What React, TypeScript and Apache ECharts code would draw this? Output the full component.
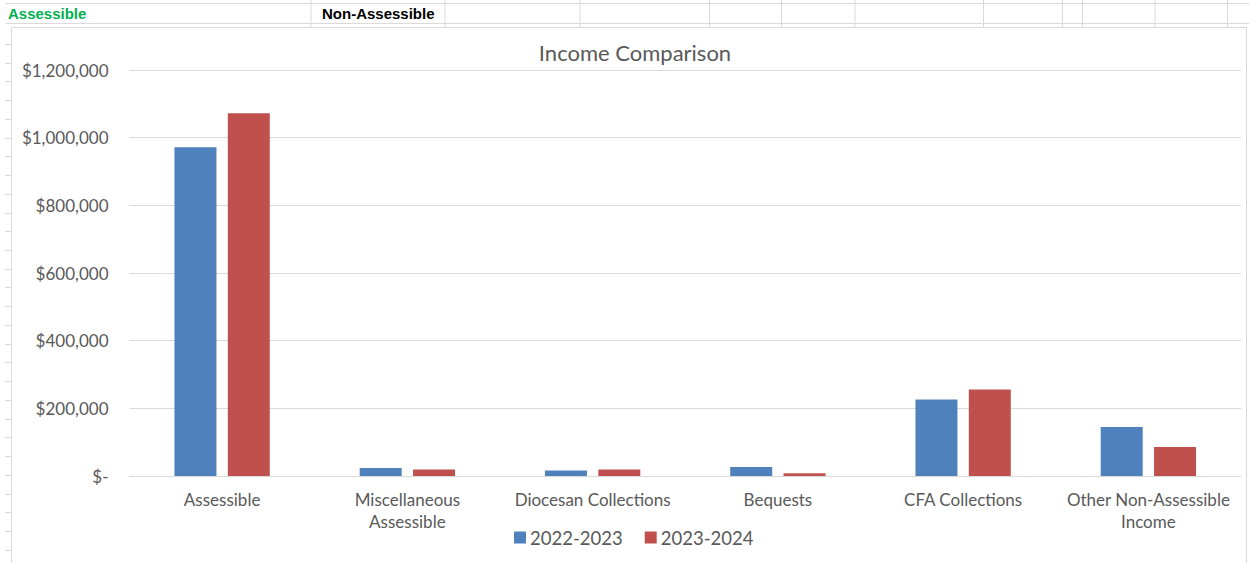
import React, { useEffect, useRef } from "react";
import * as echarts from "echarts";

const categories = [
  "Assessible",
  "Miscellaneous\nAssessible",
  "Diocesan Collections",
  "Bequests",
  "CFA Collections",
  "Other Non-Assessible\nIncome",
];
const seriesNames = ["2022-2023", "2023-2024"];
const values2022 = [972000, 23500, 16500, 26500, 226000, 145000];
const values2023 = [1072000, 19500, 19500, 8000, 256000, 86000];
const headerLabels = ["Assessible", "Non-Assessible"];
const yMax = 1200000;
const yStep = 200000;

const W = 1249;
const H = 563;
const sheetCols = [311, 445, 580, 709.5, 781.5, 855, 983.5, 1062.5, 1082.5, 1155, 1227.5];

function buildGraphics() {
  const g: any[] = [];
  const line = "#dadada";
  [3.5, 23.5].forEach((y) =>
    g.push({ type: "line", shape: { x1: 6, y1: y, x2: W, y2: y }, style: { stroke: line, lineWidth: 1 }, silent: true })
  );
  sheetCols.forEach((x) =>
    g.push({ type: "line", shape: { x1: x, y1: 0, x2: x, y2: 27 }, style: { stroke: line, lineWidth: 1 }, silent: true })
  );
  for (let k = 0; k < 28; k++) {
    const y = Math.round(44 + 18.73 * k) + 0.5;
    g.push({ type: "line", shape: { x1: 5, y1: y, x2: 11, y2: y }, style: { stroke: line, lineWidth: 1 }, silent: true });
  }
  g.push({
    type: "rect",
    shape: { x: 11.5, y: 27.5, width: 1235, height: 560 },
    style: { fill: "none", stroke: "#d9d9d9", lineWidth: 1 },
    silent: true,
  });
  g.push({
    type: "text",
    x: 8,
    y: 13,
    style: {
      text: headerLabels[0],
      fill: "#00b050",
      font: "bold 15px 'Liberation Sans Narrow', 'Liberation Sans', Arial",
      verticalAlign: "middle",
    },
    silent: true,
  });
  g.push({
    type: "text",
    x: 322,
    y: 13,
    style: {
      text: headerLabels[1],
      fill: "#000000",
      font: "bold 15px 'Liberation Sans Narrow', 'Liberation Sans', Arial",
      verticalAlign: "middle",
    },
    silent: true,
  });
  return g;
}

export default function App() {
  const ref = useRef<HTMLDivElement>(null);
  useEffect(() => {
    document.body.style.margin = "0";
    if (!ref.current) return;
    const chart = echarts.init(ref.current, undefined, { renderer: "svg" });
    const font = "Lato";
    chart.setOption({
      animation: false,
      backgroundColor: "#ffffff",
      title: {
        text: "Income Comparison",
        left: 630,
        top: 36,
        textAlign: "center",
        textStyle: { color: "#595959", fontFamily: font, fontSize: 22, fontWeight: "normal" },
      },
      legend: {
        data: seriesNames,
        left: 509,
        top: 523,
        icon: "rect",
        itemWidth: 12,
        itemHeight: 12,
        itemGap: 22,
        textStyle: { color: "#595959", fontFamily: font, fontSize: 18.5, padding: [0, 0, 0, -1] },
      },
      grid: { left: 129.5, right: 8, top: 70, bottom: 87, containLabel: false },
      xAxis: {
        type: "category",
        data: categories,
        axisLine: { show: true, lineStyle: { color: "#d9d9d9" } },
        axisTick: { show: false },
        axisLabel: {
          color: "#595959",
          fontFamily: font,
          fontSize: 17,
          margin: 12,
          lineHeight: 22,
          interval: 0,
        },
      },
      yAxis: {
        type: "value",
        min: 0,
        max: yMax,
        interval: yStep,
        axisLine: { show: false },
        axisTick: { show: false },
        splitLine: { lineStyle: { color: "#d9d9d9", width: 1 } },
        axisLabel: {
          color: "#595959",
          fontFamily: font,
          fontSize: 17,
          margin: 21,
          formatter: (v: number) => (v === 0 ? "$-" : "$" + v.toLocaleString("en-US")),
        },
      },
      series: [
        {
          name: seriesNames[0],
          type: "bar",
          data: values2022,
          barWidth: 42,
          barGap: "27%",
          itemStyle: { color: "#4f81bd" },
        },
        {
          name: seriesNames[1],
          type: "bar",
          data: values2023,
          barWidth: 42,
          barGap: "27%",
          itemStyle: { color: "#c0504d" },
        },
      ],
      graphic: buildGraphics(),
    });
    return () => chart.dispose();
  }, []);
  return <div ref={ref} style={{ width: W, height: H }} />;
}
